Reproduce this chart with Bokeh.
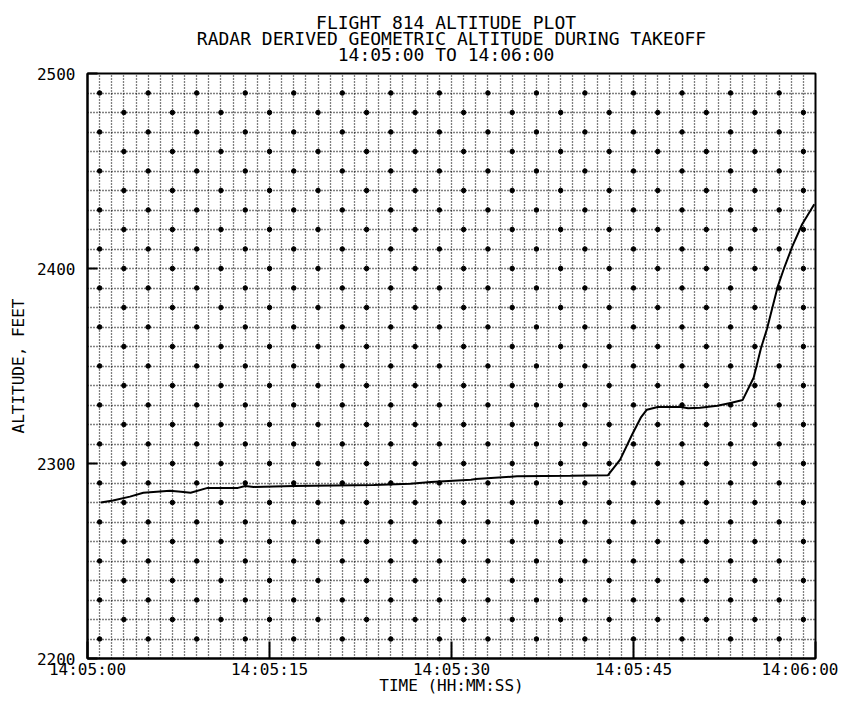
from bokeh.plotting import figure
from bokeh.models import FixedTicker, Range1d, Title
from bokeh.embed import file_html
from bokeh.resources import INLINE

# seconds after 14:05:00
seconds = [1.1, 2.1, 3.5, 4.6, 6.8, 7.7, 8.5, 9.9, 12.4, 13.0, 13.7, 17.0, 23.6,
           26.6, 28.3, 31.6, 32.0, 35.4, 39.8, 42.9, 43.9, 44.9, 45.6, 46.1, 47.0,
           48.9, 49.5, 50.5, 51.9, 53.0, 54.0, 54.9, 55.5, 56.0, 56.9, 57.4, 58.1,
           58.9, 59.9]
altitude = [2280, 2281, 2283, 2285, 2286, 2285.5, 2285, 2287.5, 2287.5, 2288.5,
            2288, 2288.5, 2289, 2289.6, 2290.5, 2291.7, 2292, 2293.4, 2293.7, 2294,
            2302, 2315, 2323.5, 2327.6, 2329, 2329, 2328.3, 2328.6, 2329.6, 2331,
            2332.6, 2344, 2359, 2369, 2391, 2400, 2411.5, 2422.7, 2433]

x_ticks = [0, 15, 30, 45, 60]
x_tick_labels = ["14:05:00", "14:05:15", "14:05:30", "14:05:45", "14:06:00"]
y_ticks = [2200, 2300, 2400, 2500]
title_lines = ["FLIGHT 814 ALTITUDE PLOT",
               "RADAR DERIVED GEOMETRIC ALTITUDE DURING TAKEOFF",
               "14:05:00 TO 14:06:00"]
x_label = "TIME (HH:MM:SS)"
y_label = "ALTITUDE, FEET"

FONT = "DejaVu Sans Mono"

p = figure(width=838, height=698, output_backend="svg", toolbar_location=None,
           title=None,
           x_range=Range1d(0, 60), y_range=Range1d(2200, 2500),
           min_border_left=87, min_border_top=0, min_border_right=23,
           min_border_bottom=40, background_fill_color="white",
           border_fill_color="white")

p.outline_line_color = "black"
p.outline_line_width = 2

# grid: 1 second x 10 feet dotted
p.xgrid.ticker = FixedTicker(ticks=list(range(0, 61)))
p.ygrid.ticker = FixedTicker(ticks=list(range(2200, 2501, 10)))
for g in (p.xgrid, p.ygrid):
    g.grid_line_color = "black"
    g.grid_line_dash = "1 2"
    g.grid_line_width = 1.3
    g.grid_line_alpha = 1.0

# plotter dots at some grid intersections
gx, gy = [], []
for r, yy in enumerate(range(2210, 2500, 10)):
    for s in range(1, 60):
        if (s + 2 * r) % 4 == 1:
            gx.append(s)
            gy.append(yy)
p.scatter(gx, gy, size=4.5, color="black")

# axes
p.xaxis.ticker = FixedTicker(ticks=x_ticks)
p.xaxis.major_label_overrides = {t: l for t, l in zip(x_ticks, x_tick_labels)}
p.yaxis.ticker = FixedTicker(ticks=y_ticks)
for ax in (p.xaxis, p.yaxis):
    ax.axis_line_color = "black"
    ax.axis_line_width = 2
    ax.major_tick_line_color = "black"
    ax.major_tick_line_width = 2
    ax.major_tick_out = 0
    ax.minor_tick_line_color = None
    ax.major_label_text_font = FONT
    ax.major_label_text_font_size = "16px"
    ax.major_label_text_color = "black"
    ax.major_label_text_line_height = 0.8
    ax.axis_label_text_font = FONT
    ax.axis_label_text_font_size = "16px"
    ax.axis_label_text_font_style = "normal"
    ax.axis_label_text_color = "black"
    ax.axis_label_text_line_height = 0.8
p.xaxis.major_tick_in = 17
p.yaxis.major_tick_in = 10
p.xaxis.major_label_standoff = 1
p.yaxis.major_label_standoff = 12
p.xaxis.axis_label = x_label
p.yaxis.axis_label = y_label
p.xaxis.axis_label_standoff = -6
p.yaxis.axis_label_standoff = 6

# data line
p.line(seconds, altitude, line_color="black", line_width=2)

# three-line title, lines centred (monospace padding with no-break spaces)
width_chars = max(len(t) for t in title_lines)
padded = []
for t in title_lines:
    left = (width_chars - len(t)) // 2
    right = width_chars - len(t) - left
    padded.append("\u00a0" * left + t + "\u00a0" * right)
p.add_layout(Title(text="\n".join(padded), align="center", text_font=FONT,
                   text_font_size="18px", text_font_style="normal",
                   text_line_height=0.75, text_color="black", standoff=18), "above")

open("out.html", "w").write(file_html(p, INLINE))
